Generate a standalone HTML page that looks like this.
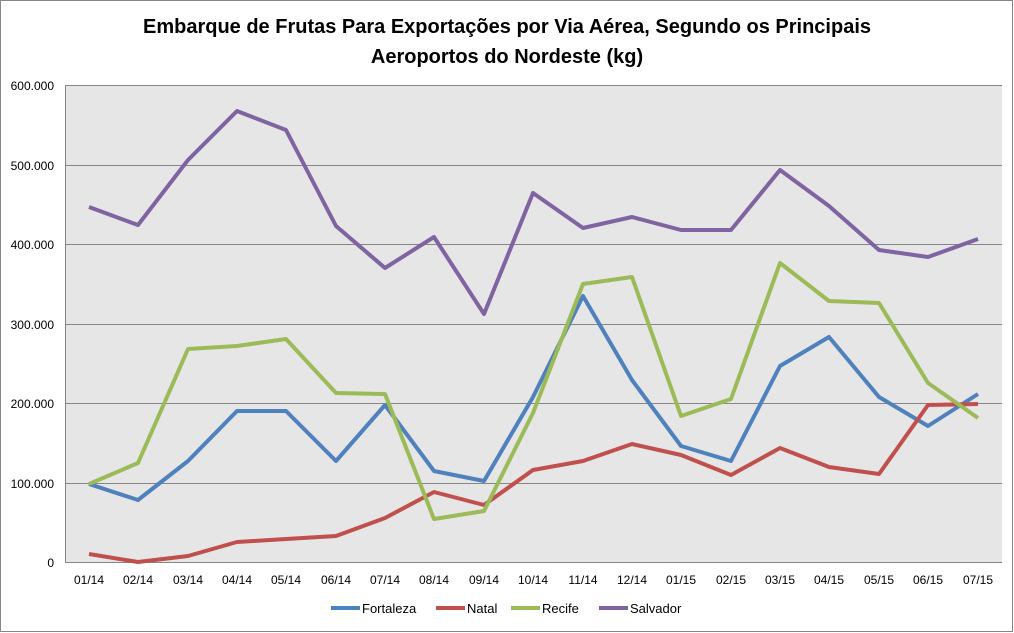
<!DOCTYPE html><html><head><style>body{margin:0;background:#fff}svg{display:block;font-family:"Liberation Sans",sans-serif}</style></head><body>
<svg width="1014" height="633" xmlns="http://www.w3.org/2000/svg">
<rect x="0.5" y="0.5" width="1012" height="631" fill="#fff" stroke="#868686"/>
<text x="507" y="33" text-anchor="middle" font-size="20" font-weight="bold">Embarque de Frutas Para Exportações por Via Aérea, Segundo os Principais</text>
<text x="507" y="63" text-anchor="middle" font-size="20" font-weight="bold">Aeroportos do Nordeste (kg)</text>
<rect x="65" y="85" width="937" height="478" fill="#e6e6e6"/>
<g stroke="#868686" stroke-width="1">
<line x1="65" x2="1002" y1="85.5" y2="85.5"/><line x1="65" x2="1002" y1="165.5" y2="165.5"/><line x1="65" x2="1002" y1="244.5" y2="244.5"/><line x1="65" x2="1002" y1="324.5" y2="324.5"/><line x1="65" x2="1002" y1="403.5" y2="403.5"/><line x1="65" x2="1002" y1="483.5" y2="483.5"/><line x1="65" x2="1002" y1="562.5" y2="562.5"/>
<line x1="65.5" x2="65.5" y1="85" y2="563"/>
</g>
<g font-size="12" text-anchor="end">
<text x="54" y="90">600.000</text><text x="54" y="170">500.000</text><text x="54" y="249">400.000</text><text x="54" y="329">300.000</text><text x="54" y="408">200.000</text><text x="54" y="488">100.000</text><text x="54" y="567">0</text>
</g>
<g font-size="12" text-anchor="middle">
<text x="89" y="584">01/14</text><text x="138" y="584">02/14</text><text x="188" y="584">03/14</text><text x="237" y="584">04/14</text><text x="286" y="584">05/14</text><text x="336" y="584">06/14</text><text x="385" y="584">07/14</text><text x="434" y="584">08/14</text><text x="484" y="584">09/14</text><text x="533" y="584">10/14</text><text x="583" y="584">11/14</text><text x="632" y="584">12/14</text><text x="681" y="584">01/15</text><text x="731" y="584">02/15</text><text x="780" y="584">03/15</text><text x="829" y="584">04/15</text><text x="879" y="584">05/15</text><text x="928" y="584">06/15</text><text x="978" y="584">07/15</text>
</g>
<g fill="none" stroke-width="4" stroke-linejoin="round">
<polyline stroke="#4f81bd" points="89,484 138,500 188,461 237,411 286,411 336,461 385,405 434,471 484,481 533,397 583,296 632,380 681,446 731,461 780,366 829,337 879,397 928,426 978,394"/>
<polyline stroke="#c0504d" points="89,554 138,562 188,556 237,542 286,539 336,536 385,518 434,492 484,505 533,470 583,461 632,444 681,455 731,475 780,448 829,467 879,474 928,405 978,404"/>
<polyline stroke="#9bbb59" points="89,484 138,463 188,349 237,346 286,339 336,393 385,394 434,519 484,511 533,413 583,284 632,277 681,416 731,399 780,263 829,301 879,303 928,383 978,418"/>
<polyline stroke="#8064a2" points="89,207 138,225 188,160 237,111 286,130 336,226 385,268 434,237 484,314 533,193 583,228 632,217 681,230 731,230 780,170 829,206 879,250 928,257 978,239"/>
</g>
<g font-size="13" stroke-width="4">
<line x1="331" x2="360" y1="608" y2="608" stroke="#4f81bd"/><text x="362" y="613">Fortaleza</text>
<line x1="436" x2="465" y1="608" y2="608" stroke="#c0504d"/><text x="467" y="613">Natal</text>
<line x1="511" x2="540" y1="608" y2="608" stroke="#9bbb59"/><text x="542" y="613">Recife</text>
<line x1="599" x2="628" y1="608" y2="608" stroke="#8064a2"/><text x="630" y="613">Salvador</text>
</g>
</svg></body></html>
